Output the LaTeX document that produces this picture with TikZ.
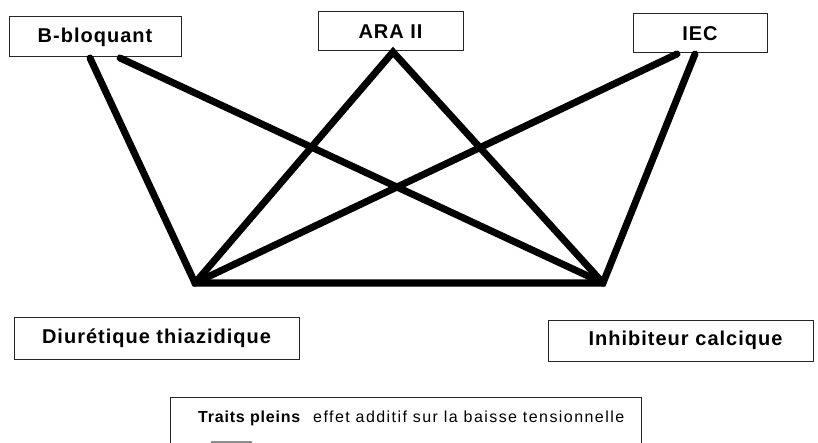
\documentclass[tikz,border=0pt]{standalone}
\usepackage{fontspec}
\setmainfont{Liberation Sans}
\newfontfamily\lblfont[LetterSpace=5]{Liberation Sans}
\newfontfamily\legfont[LetterSpace=9]{Liberation Sans}
\begin{document}
\begin{tikzpicture}[x=1pt,y=-1pt,
  box/.style={draw=black!85,line width=1pt,fill=white,inner sep=0pt,
    font=\lblfont\bfseries\fontsize{20}{22}\selectfont},
  link/.style={line width=7pt,line join=miter,line cap=round},
  legtxt/.style={anchor=base west,inner sep=0pt}]
\useasboundingbox (0,0) rectangle (818,443);
% boxes
\node[box,minimum width=172pt,minimum height=40pt] (bb) at (95,37) {\raisebox{-1.5pt}{B-bloquant}};
\node[box,minimum width=145pt,minimum height=39pt] (ara) at (390.5,31.5) {\raisebox{-1.5pt}{ARA II}};
\node[box,minimum width=134pt,minimum height=39pt] (iec) at (700,33.5) {\raisebox{-1.5pt}{IEC}};
\node[box,minimum width=285pt,minimum height=42pt] (diu) at (156.5,338) {\raisebox{-1.5pt}{Diurétique thiazidique}};
\node[box,minimum width=265pt,minimum height=41pt,text width=265pt,align=center] (inh) at (680.5,340.5) {\hspace*{10pt}\raisebox{-1.5pt}{Inhibiteur calcique}};
% connection points
\coordinate (bb1) at (90,58);
\coordinate (bb2) at (120,58);
\coordinate (araP) at (393,52);
\coordinate (iec1) at (677,54);
\coordinate (iec2) at (695,54);
\coordinate (pD) at (195,283);
\coordinate (pI) at (603,283);
% links
\draw[link] (bb1) -- (pD) -- (pI) -- (iec2);
\draw[link] (pD) -- (araP) -- (pI);
\draw[link] (iec1) -- (pD);
\draw[link] (bb2) -- (pI);
% legend
\draw[black!85,line width=1pt] (170,443) coordinate (l1) -- (170,397) coordinate (l2) -- (641,397) coordinate (l3) -- (641,443) coordinate (l4);
\node[legtxt,font=\lblfont\bfseries\fontsize{16}{18}\selectfont] (tp) at (198,422) {Traits pleins};
\node[legtxt,font=\legfont\fontsize{16}{18}\selectfont] (ef) at (313,422) {effet additif sur la baisse tensionnelle};
\fill[black!45] (211,441) rectangle (252,443);
\end{tikzpicture}
\end{document}
